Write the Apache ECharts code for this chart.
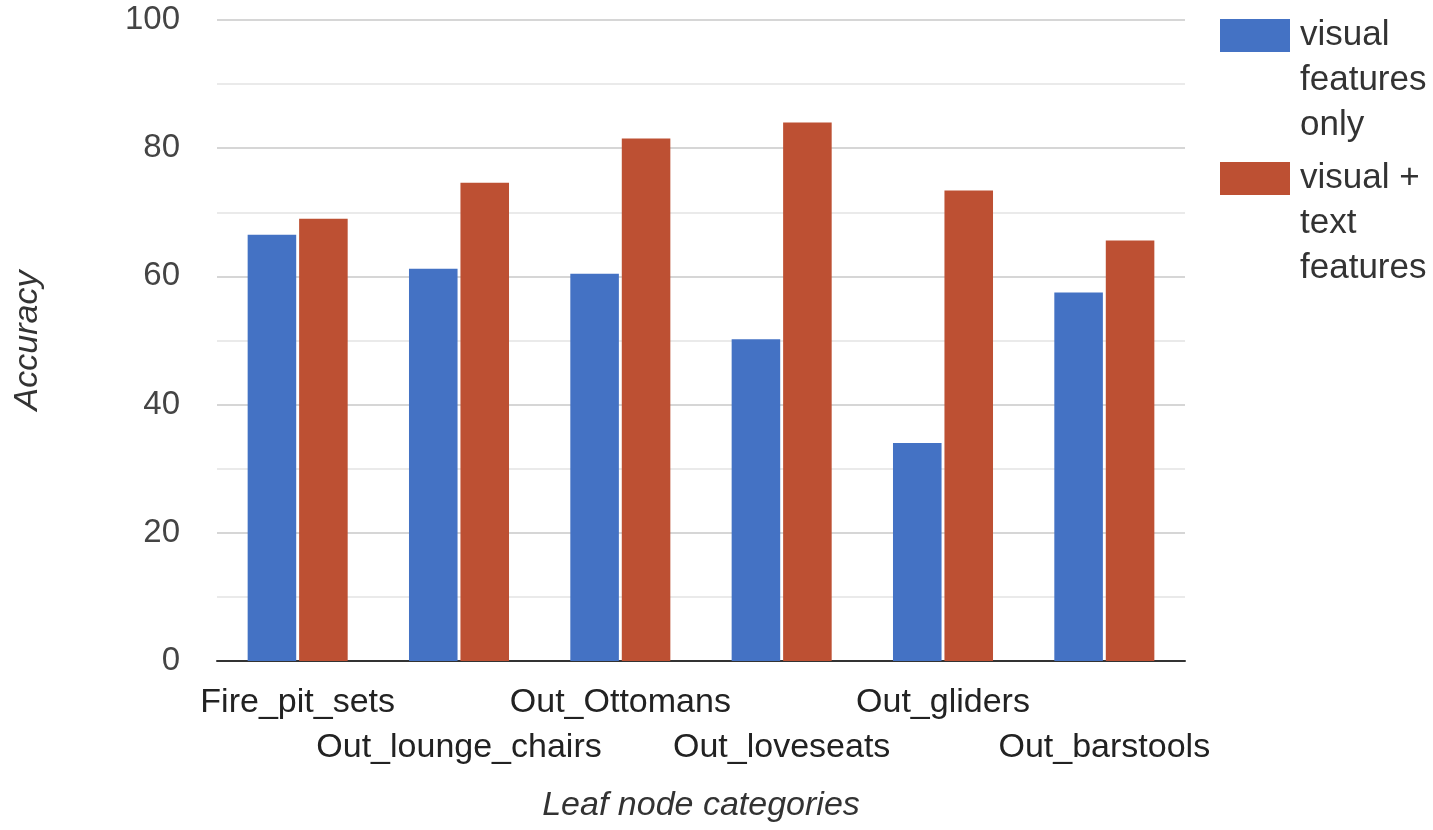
<!DOCTYPE html>
<html>
<head>
<meta charset="utf-8">
<script src="https://cdn.jsdelivr.net/npm/echarts@6/dist/echarts.min.js"></script>
<style>
  html, body { margin: 0; padding: 0; background: #fff; }
  #chart { width: 1433px; height: 830px; }
</style>
</head>
<body>
<div id="chart"></div>
<script>
const categories = ['Fire_pit_sets', 'Out_lounge_chairs', 'Out_Ottomans', 'Out_loveseats', 'Out_gliders', 'Out_barstools'];
const visualOnly = [66.5, 61.2, 60.4, 50.2, 34.0, 57.5];
const visualText = [69.0, 74.6, 81.5, 84.0, 73.4, 65.6];
const seriesNames = ['visual features only', 'visual + text features'];
const legendText = {
    'visual features only': 'visual\nfeatures\nonly',
    'visual + text features': 'visual +\ntext\nfeatures'
};

const chart = echarts.init(document.getElementById('chart'));
const font = 'Liberation Sans, Arial, sans-serif';

const option = {
    animation: false,
    textStyle: { fontFamily: font },
    grid: { left: 217, right: 248, top: 20, bottom: 169 },
    legend: {
        orient: 'vertical',
        left: 1215,
        top: -87,
        itemWidth: 70,
        itemHeight: 33,
        itemGap: -92,
        icon: 'rect',
        data: seriesNames,
        // empty lines on top keep the first text line level with the swatch
        formatter: name => '\n\n' + legendText[name],
        textStyle: { fontSize: 35, color: '#333', lineHeight: 45, padding: [10, 0, 0, 5], fontFamily: font }
    },
    xAxis: {
        type: 'category',
        data: categories,
        name: 'Leaf node categories',
        nameLocation: 'middle',
        nameGap: 128,
        nameTextStyle: { fontSize: 34, fontStyle: 'italic', color: '#333', fontFamily: font },
        axisLine: { lineStyle: { color: '#333', width: 2 } },
        axisTick: { show: false },
        axisLabel: {
            interval: 0,
            margin: 19,
            fontSize: 34,
            lineHeight: 45,
            color: '#222',
            formatter: (value, idx) => (idx % 2 ? '\n' + value : value)
        }
    },
    yAxis: {
        type: 'value',
        min: 0,
        max: 100,
        interval: 20,
        name: 'Accuracy',
        nameLocation: 'middle',
        nameGap: 172,
        nameTextStyle: { fontSize: 34, fontStyle: 'italic', color: '#333', fontFamily: font },
        axisLine: { show: false },
        axisTick: { show: false },
        axisLabel: { margin: 37, fontSize: 33, color: '#444' },
        splitLine: { lineStyle: { color: '#c8c8c8', width: 1.5 } },
        minorTick: { show: false, splitNumber: 2 },
        minorSplitLine: { show: true, lineStyle: { color: '#e4e4e4', width: 1.5 } }
    },
    series: [
        {
            name: seriesNames[0],
            type: 'bar',
            data: visualOnly,
            itemStyle: { color: '#4472C4' },
            barGap: '6%',
            barCategoryGap: '38%'
        },
        {
            name: seriesNames[1],
            type: 'bar',
            data: visualText,
            itemStyle: { color: '#BD5033' }
        }
    ]
};

chart.setOption(option);
</script>
</body>
</html>
